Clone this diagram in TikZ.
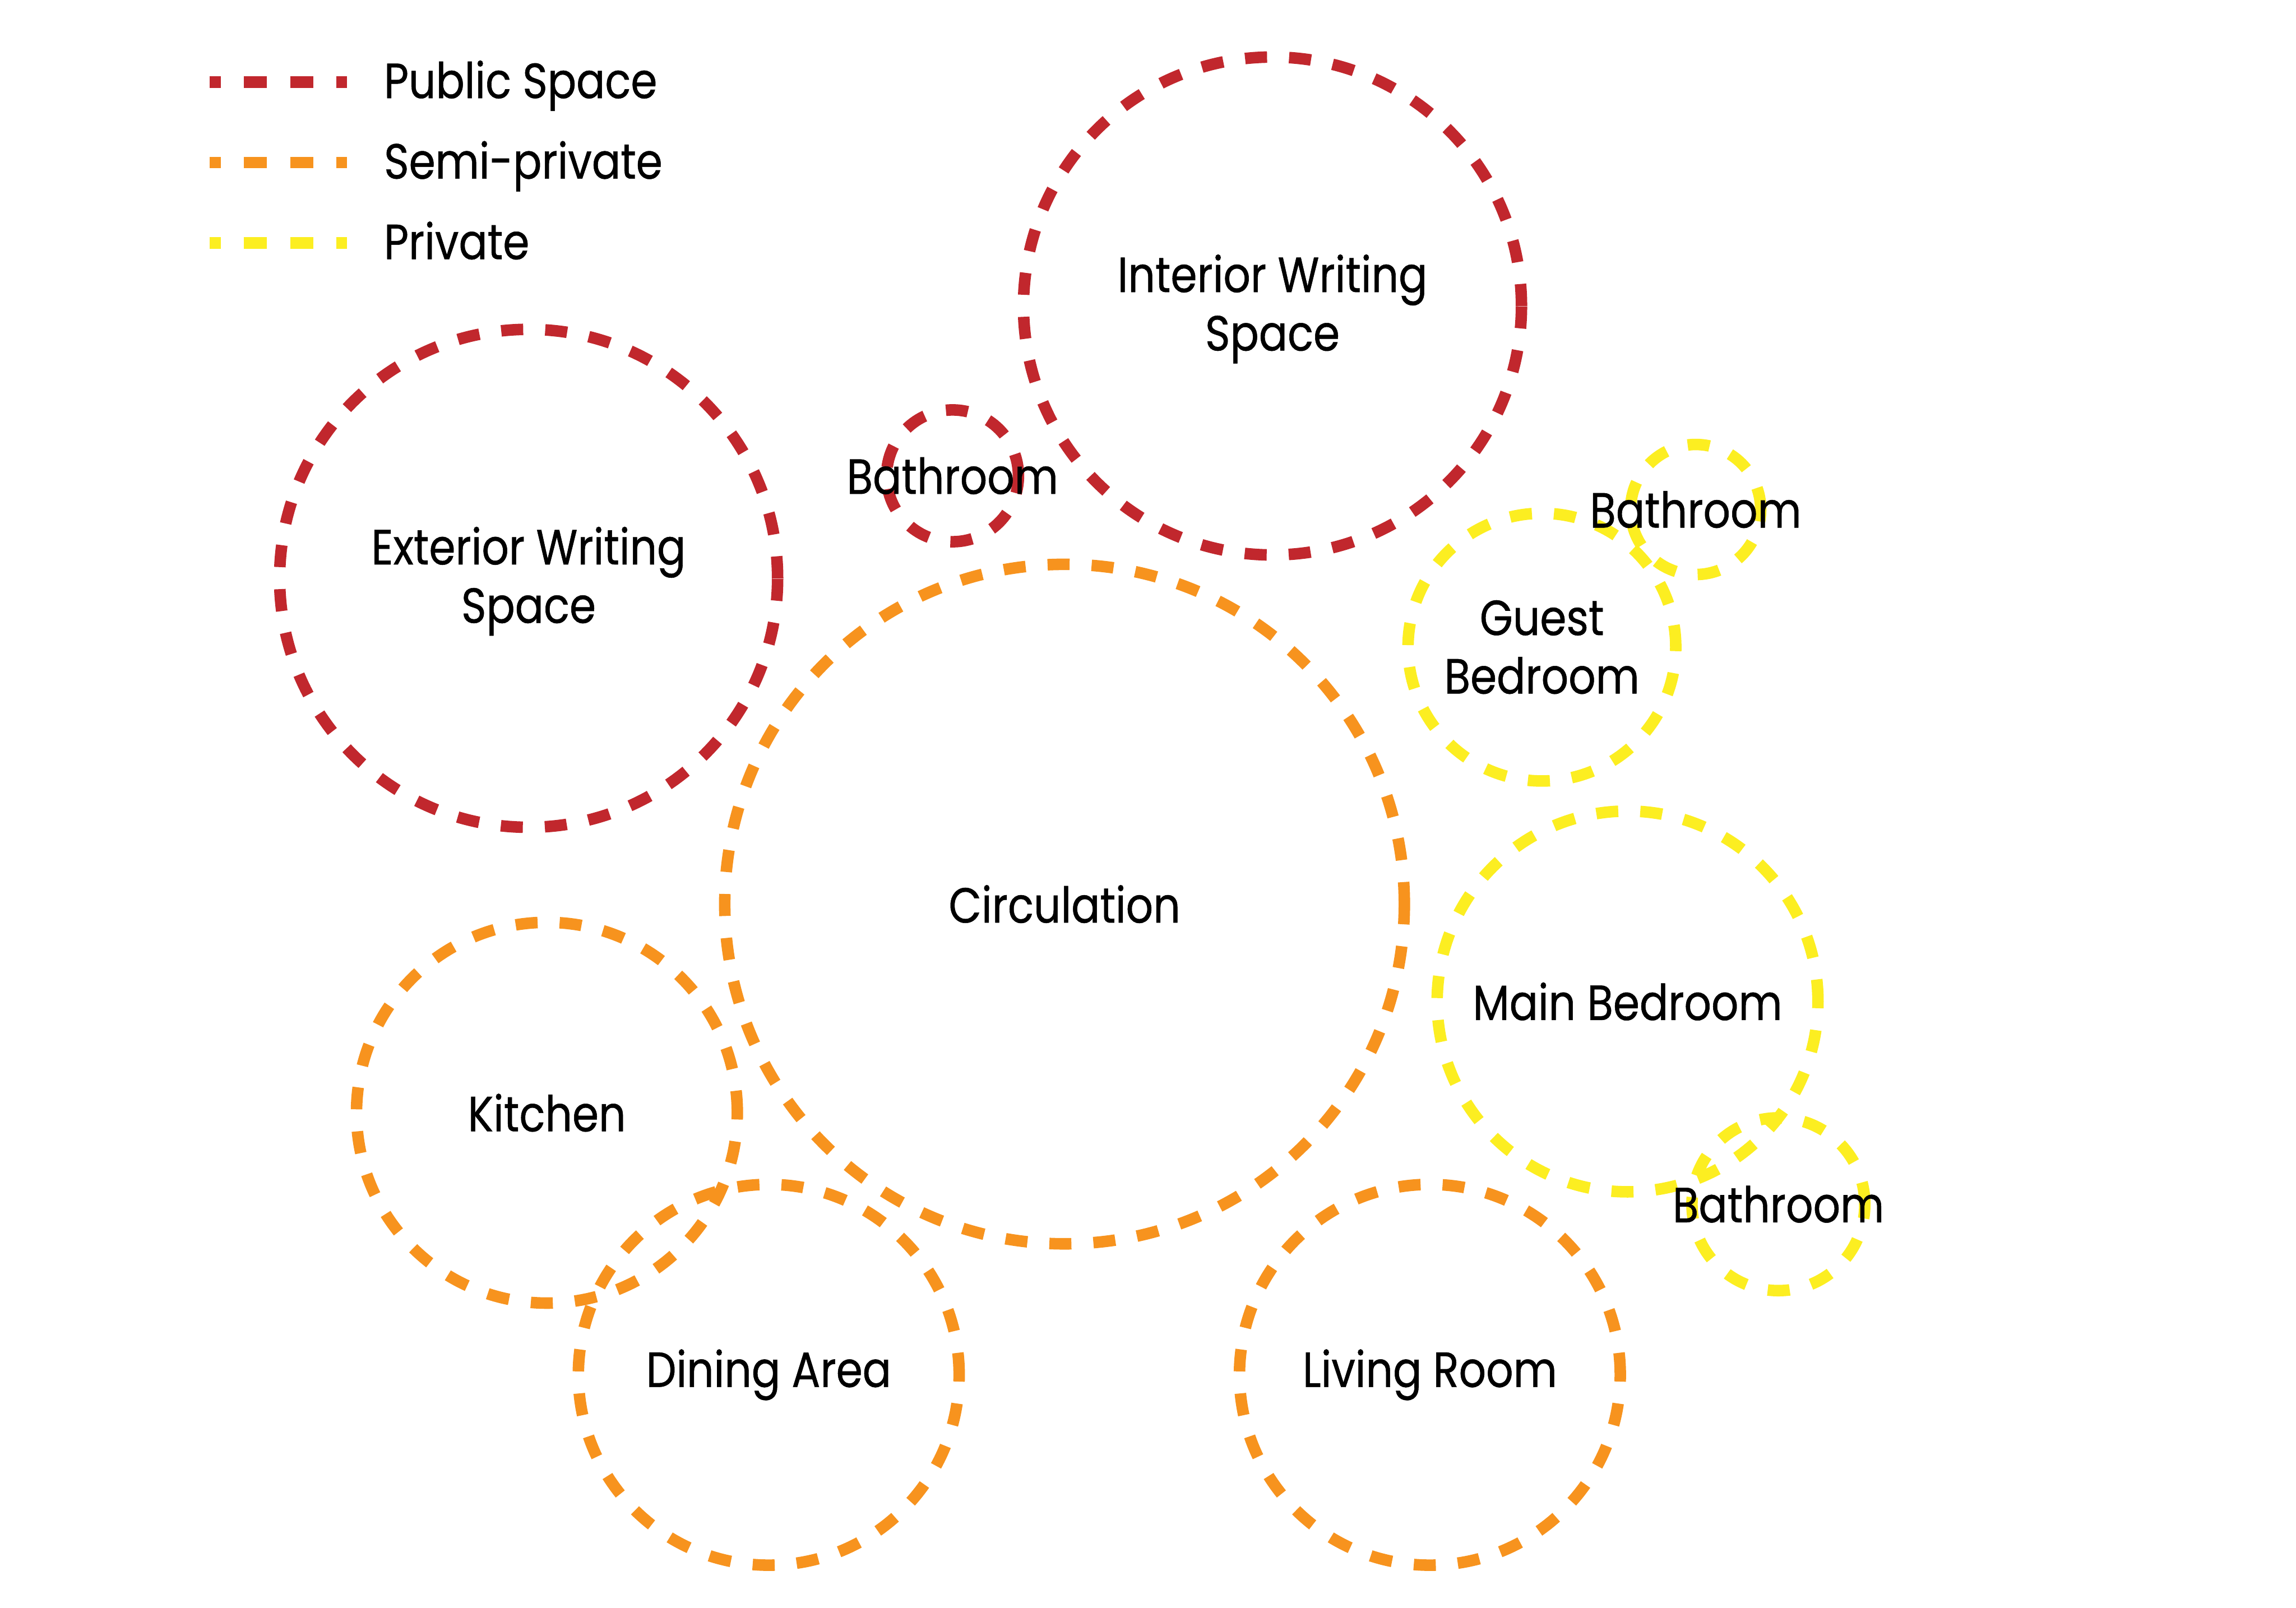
\documentclass[tikz,border=0pt]{standalone}
\usepackage{fontspec}
\setmainfont{Poppins}[FakeStretch=0.86, FakeBold=0.6]
\usetikzlibrary{positioning}
\definecolor{publicred}{HTML}{C1272D}
\definecolor{semiorange}{HTML}{F7931E}
\definecolor{privyellow}{HTML}{FCEE21}

\begin{document}
\begin{tikzpicture}[
  x=0.025cm, y=-0.025cm,
  zone/.style={circle, draw=#1, line width=5.6pt, inner sep=0pt,
               dash pattern=on 10.7pt off 10.7pt},
  key/.style={draw=#1, line width=5.6pt,
              dash pattern=on 11.2pt off 11.2pt, dash phase=5.6pt},
  room/.style={align=center, inner sep=0pt,
               font=\fontsize{24}{28.4}\selectfont}
]
  \useasboundingbox (0,0) rectangle (1568,1098);

  % Legend
  \coordinate (pubA) at (143,56);
  \coordinate (pubB) at (237,56);
  \coordinate (semA) at (143,111);
  \coordinate (semB) at (237,111);
  \coordinate (priA) at (143,166);
  \coordinate (priB) at (237,166);
  \draw[key=publicred](pubA)--(pubB);
  \draw[key=semiorange](semA)--(semB);
  \draw[key=privyellow](priA)--(priB);
  \node[room, anchor=base west] (pubT) at (262,67) {Public Space};
  \node[room, anchor=base west] (semT) at (262,122) {Semi-private};
  \node[room, anchor=base west] (priT) at (262,177) {Private};

  % Public
  \node[zone=publicred, minimum size=8.5cm] (inter) at (869,209) {};
  \node[zone=publicred, minimum size=8.5cm] (exter) at (361,395) {};
  \node[zone=publicred, minimum size=2.25cm] (bathA) at (650.5,325) {};

  % Semi-private
  \node[zone=semiorange, minimum size=11.6cm] (circ) at (727,617.5) {};
  \node[zone=semiorange, minimum size=6.5cm] (kitch) at (373.5,760) {};
  \node[zone=semiorange, minimum size=6.5cm] (dine) at (525,939) {};
  \node[zone=semiorange, minimum size=6.5cm] (living) at (976.5,939) {};

  % Private
  \node[zone=privyellow, minimum size=4.57cm] (guest) at (1053,442) {};
  \node[zone=privyellow, minimum size=2.22cm] (bathB) at (1158,348) {};
  \node[zone=privyellow, minimum size=6.5cm] (mainbed) at (1111.5,684) {};
  \node[zone=privyellow, minimum size=2.95cm] (bathC) at (1214.5,822.5) {};

  % Names
  \node[room] (interT) at ([yshift=-0.05cm]inter) {Interior Writing\\Space};
  \node[room] (exterT) at ([yshift=-0.05cm]exter) {Exterior Writing\\Space};
  \node[room] (bathAT) at (bathA) {Bathroom};
  \node[room] (circT) at (circ) {Circulation};
  \node[room] (kitchT) at (kitch) {Kitchen};
  \node[room] (dineT) at (dine) {Dining Area};
  \node[room] (livingT) at (living) {Living Room};
  \node[room] (guestT) at (guest) {Guest\\Bedroom};
  \node[room] (bathBT) at (bathB) {Bathroom};
  \node[room] (mainbedT) at (mainbed) {Main Bedroom};
  \node[room] (bathCT) at (bathC) {Bathroom};
\end{tikzpicture}
\end{document}
